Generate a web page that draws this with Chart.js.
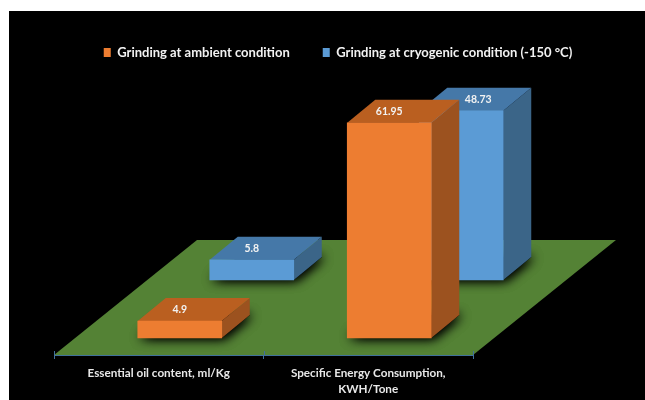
<!DOCTYPE html>
<html>
<head>
<meta charset="utf-8">
<title>Grinding comparison</title>
<script src="https://cdn.jsdelivr.net/npm/chart.js@4"></script>
<style>
  html, body { margin: 0; background: #fff; }
  #wrap { position: absolute; left: 9px; top: 11px; width: 636px; height: 389px; background: #000; }
</style>
</head>
<body>
<div id="wrap"><canvas id="grindingChart" width="636" height="389"></canvas></div>
<script>
const categories = ['Essential oil content, ml/Kg', ['Specific Energy Consumption,', 'KWH/Tone']];
const ambientValues = [4.9, 61.95];
const cryogenicValues = [5.8, 48.73];

const FONT = "Lato, 'Open Sans', sans-serif";
const FLOOR_SHEAR = 143;   // how far the back edge of the floor leans right
const FLOOR_DEPTH = 115;
const BAR_DEPTH = { x: 28, y: -23 };

// Paints the green floor before the axes go on
const floorPlugin = {
    id: 'floor',
    beforeDraw(chart) {
        const { ctx, chartArea: a } = chart;
        ctx.save();
        ctx.fillStyle = '#548235';
        ctx.beginPath();
        ctx.moveTo(a.left, a.bottom);
        ctx.lineTo(a.right, a.bottom);
        ctx.lineTo(a.right + FLOOR_SHEAR, a.bottom - FLOOR_DEPTH);
        ctx.lineTo(a.left + FLOOR_SHEAR, a.bottom - FLOOR_DEPTH);
        ctx.closePath();
        ctx.fill();
        ctx.restore();
    },
    afterDatasetsDraw(chart) {
        // tick marks poke above the axis line as well
        const { ctx, chartArea: a } = chart;
        const step = (a.right - a.left) / categories.length;
        ctx.save();
        ctx.strokeStyle = '#41719c';
        for (let i = 0; i <= categories.length; i++) {
            const x = Math.round(a.left + i * step) + 0.5;
            ctx.beginPath();
            ctx.moveTo(x, a.bottom - 4);
            ctx.lineTo(x, a.bottom);
            ctx.stroke();
        }
        ctx.restore();
    }
};

// Extrudes each bar: shadow, side and top faces, then the value on the top face
const boxPlugin = {
    id: 'box3d',
    beforeDatasetDraw(chart, args) {
        const { ctx } = chart;
        const ds = chart.data.datasets[args.index];
        ctx.save();
        ctx.translate(ds.rowOffset.x, ds.rowOffset.y);
        args.meta.data.forEach(bar => {
            const l = bar.x - bar.width / 2;
            const r = bar.x + bar.width / 2;
            const dx = BAR_DEPTH.x;
            const dy = BAR_DEPTH.y;

            // footprint filled twice so the soft shadow comes out dark enough
            ctx.save();
            ctx.shadowColor = '#000';
            ctx.shadowBlur = 12;
            ctx.shadowOffsetX = 2;
            ctx.fillStyle = '#000';
            ctx.beginPath();
            ctx.moveTo(l, bar.base);
            ctx.lineTo(r, bar.base);
            ctx.lineTo(r + dx, bar.base + dy);
            ctx.lineTo(l + dx, bar.base + dy);
            ctx.closePath();
            ctx.fill();
            ctx.fill();
            ctx.restore();

            ctx.fillStyle = ds.sideColor;
            ctx.beginPath();
            ctx.moveTo(r, bar.y);
            ctx.lineTo(r + dx, bar.y + dy);
            ctx.lineTo(r + dx, bar.base + dy);
            ctx.lineTo(r, bar.base);
            ctx.closePath();
            ctx.fill();

            ctx.fillStyle = ds.topColor;
            ctx.beginPath();
            ctx.moveTo(l, bar.y);
            ctx.lineTo(l + dx, bar.y + dy);
            ctx.lineTo(r + dx, bar.y + dy);
            ctx.lineTo(r, bar.y);
            ctx.closePath();
            ctx.fill();
        });
    },
    afterDatasetDraw(chart, args) {
        const { ctx } = chart;
        const ds = chart.data.datasets[args.index];
        ctx.font = '700 10.5px ' + FONT;
        ctx.fillStyle = '#f2f2f2';
        ctx.textAlign = 'center';
        ctx.textBaseline = 'middle';
        args.meta.data.forEach((bar, i) => {
            ctx.fillText(ds.data[i], bar.x + ds.labelShift[i], bar.y - 11);
        });
        ctx.restore();
    }
};

new Chart(document.getElementById('grindingChart'), {
    type: 'bar',
    data: {
        labels: categories,
        datasets: [
            {
                label: 'Grinding at ambient condition',
                data: ambientValues,
                backgroundColor: '#ed7d31',
                topColor: '#ba5f20',
                sideColor: '#9c521f',
                rowOffset: { x: 21, y: -17 },
                labelShift: [0, 0],
                clip: false
            },
            {
                label: 'Grinding at cryogenic condition (-150 °C)',
                data: cryogenicValues,
                backgroundColor: '#5b9bd5',
                topColor: '#4578a8',
                sideColor: '#3b6588',
                rowOffset: { x: 93, y: -75 },
                labelShift: [0, 17],
                clip: false
            }
        ]
    },
    options: {
        responsive: false,
        animation: false,
        grouped: false,
        barThickness: 84,
        layout: { padding: { left: 45, right: 23, top: 2 } },
        plugins: {
            tooltip: { enabled: false },
            legend: {
                position: 'top',
                align: 'center',
                labels: {
                    color: '#f2f2f2',
                    boxWidth: 7,
                    boxHeight: 9,
                    padding: 33,
                    font: { family: FONT, size: 13, weight: '700' }
                }
            }
        },
        scales: {
            x: {
                afterFit(scale) { scale.height = 45; },
                border: { color: '#41719c', width: 1 },
                grid: { drawOnChartArea: false, color: '#41719c', tickLength: 4 },
                ticks: {
                    color: '#e8e8e8',
                    padding: 6,
                    maxRotation: 0,
                    autoSkip: false,
                    font: { family: FONT, size: 11.7, weight: '700', lineHeight: 1.4 }
                }
            },
            y: {
                position: 'right',
                afterFit(scale) { scale.width = 149; },
                min: 0,
                max: 82.3,
                border: { display: false },
                grid: { display: false },
                ticks: { display: false }
            }
        }
    },
    plugins: [floorPlugin, boxPlugin]
});
</script>
</body>
</html>
